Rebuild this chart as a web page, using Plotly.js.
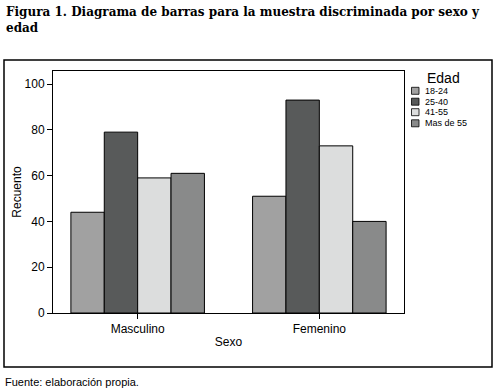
<!DOCTYPE html>
<html><head><meta charset="utf-8">
<script src="https://cdn.plot.ly/plotly-3.0.1.min.js"></script>
<style>html,body{margin:0;padding:0;background:#fff;}#chart{width:496px;height:391px;}</style>
</head><body><div id="chart"></div>
<script>
const categories = ["Masculino", "Femenino"];
const ageGroups = ["18-24", "25-40", "41-55", "Mas de 55"];
const values18_24 = [44, 51];
const values25_40 = [79, 93];
const values41_55 = [59, 73];
const valuesMas55 = [61, 40];
const colors = ["#a1a1a1", "#585a5a", "#dcdddd", "#898a8a"];
const series = [values18_24, values25_40, values41_55, valuesMas55];

const traces = series.map((vals, i) => ({
  type: "bar", x: categories, y: vals, name: ageGroups[i],
  marker: {color: colors[i], line: {color: "#000", width: 1}},
  hoverinfo: "skip", showlegend: false
}));

const L = 53, R = 404, T = 71, B = 313, W = 496, H = 391;
const px = v => (v - L) / (R - L);
const py = v => (B - v) / (B - T);

const shapes = [{
  type: "rect", xref: "paper", yref: "paper",
  x0: px(4), x1: px(492), y0: py(367), y1: py(60),
  line: {color: "#000", width: 1.5}, fillcolor: "rgba(0,0,0,0)", layer: "below"
}];
const annotations = [
  {xref: "paper", yref: "paper", x: px(4), y: py(3), xanchor: "left", yanchor: "top",
   align: "left", showarrow: false,
   text: "<b>Figura 1. Diagrama de barras para la muestra discriminada por sexo y<br>edad</b>",
   font: {family: "DejaVu Serif, serif", size: 12, color: "#000"}},
  {xref: "paper", yref: "paper", x: px(3), y: py(374), xanchor: "left", yanchor: "top",
   showarrow: false, text: "Fuente: elaboración propia.",
   font: {family: "Liberation Sans, Arial, sans-serif", size: 11, color: "#000"}},
  {xref: "paper", yref: "paper", x: px(444), y: py(78.5), xanchor: "center", yanchor: "middle",
   showarrow: false, text: "Edad",
   font: {family: "Liberation Sans, Arial, sans-serif", size: 14, color: "#000"}}
];
const rowY = [90.8, 101.7, 112.2, 123.3];
ageGroups.forEach((g, i) => {
  shapes.push({
    type: "rect", xref: "paper", yref: "paper",
    x0: px(411.5), x1: px(419), y0: py(rowY[i] + 3.5), y1: py(rowY[i] - 3.5),
    line: {color: "#000", width: 0.8}, fillcolor: colors[i]
  });
  annotations.push({
    xref: "paper", yref: "paper", x: px(422.5), y: py(rowY[i]), xanchor: "left", yanchor: "middle",
    showarrow: false, text: g,
    font: {family: "Liberation Sans, Arial, sans-serif", size: 9, color: "#000"}
  });
});

const layout = {
  width: W, height: H,
  margin: {l: L, r: W - R, t: T, b: H - B},
  paper_bgcolor: "#fff", plot_bgcolor: "#fff",
  barmode: "group", bargap: 0.265, bargroupgap: 0,
  font: {family: "Liberation Sans, Arial, sans-serif", color: "#000", size: 12},
  xaxis: {
    range: [-0.466, 1.466], showline: true, mirror: true, linecolor: "#000", linewidth: 1,
    ticks: "outside", ticklen: 5, tickcolor: "#000", showgrid: false, zeroline: false,
    tickfont: {size: 12}, title: {text: "Sexo", font: {size: 12}, standoff: 2}
  },
  yaxis: {
    range: [0, 105.7], tickvals: [0, 20, 40, 60, 80, 100], showline: true, mirror: true,
    linecolor: "#000", linewidth: 1, ticks: "outside", ticklen: 5, tickcolor: "#000",
    showgrid: false, zeroline: false, tickfont: {size: 12},
    title: {text: "Recuento", font: {size: 12}, standoff: 0}
  },
  showlegend: false,
  shapes: shapes,
  annotations: annotations
};

Plotly.newPlot("chart", traces, layout, {displayModeBar: false, staticPlot: true});
</script></body></html>
